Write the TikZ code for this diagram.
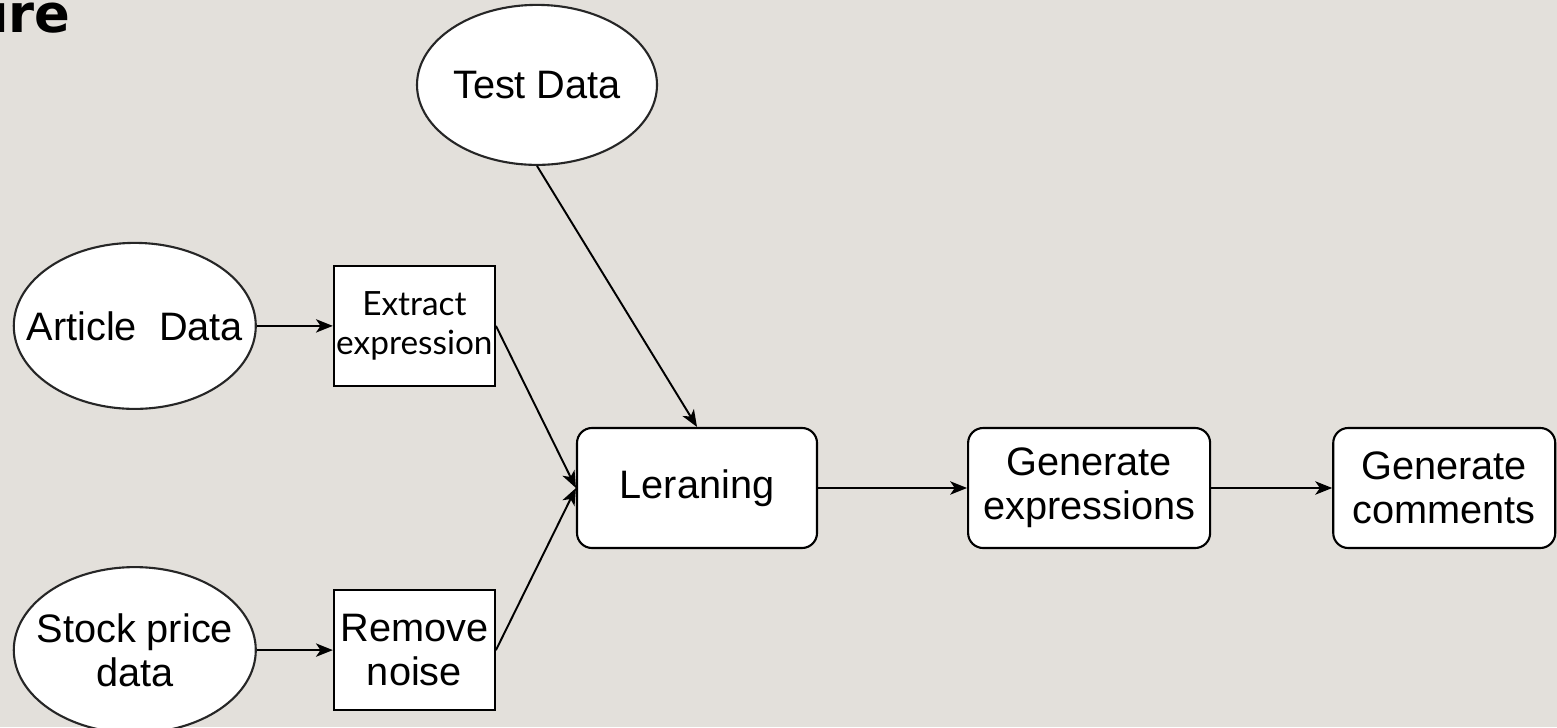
\documentclass[tikz,border=0pt]{standalone}
\usepackage{fontspec}
\setmainfont{Liberation Sans}
\newfontfamily\gillfont{Lato}
\newfontfamily\headfont{DejaVu Sans}
\usepackage{tikz}
\usetikzlibrary{shapes.geometric, arrows.meta, positioning}
\definecolor{slidebg}{RGB}{227,224,219}
\tikzstyle{datanode} = [ellipse, draw=black!85, fill=white, minimum width=2.42cm,
    minimum height=1.66cm, inner xsep=-0.25cm, inner ysep=0pt, line width=0.6pt,
    align=center, font=\fontsize{11.3}{12.5}\selectfont]
\tikzstyle{prepblock} = [rectangle, draw=black, fill=white, minimum width=1.61cm,
    minimum height=1.2cm, inner sep=0.5pt, line width=0.6pt, align=center,
    font=\fontsize{11.3}{12.5}\selectfont]
\tikzstyle{stepblock} = [rectangle, rounded corners=0.15cm, draw=black, fill=white,
    minimum width=2.4cm, minimum height=1.2cm, line width=0.6pt, align=center,
    font=\fontsize{11.3}{12.5}\selectfont]
\tikzstyle{arrow} = [line width=0.55pt, ->, >={Stealth[length=4.8pt, width=3.8pt, inset=1.3pt]}]

\begin{document}
\begin{tikzpicture}[node distance=0.4cm and 0.8cm]

  % slide background
  \fill[slidebg] (0,0) rectangle (15.57,7.27);
  \useasboundingbox (0,0) rectangle (15.57,7.27);

  \node (title) [anchor=base east, inner sep=0pt,
        font=\headfont\bfseries\fontsize{15}{18}\selectfont]
        at (0.71,6.94) {ure};

  \node (learn)   [stepblock] at (6.97,2.39) {Leraning};
  \node (genexpr) [stepblock, minimum width=2.42cm, right=1.49cm of learn]
        {Generate\\expressions};
  \node (gencomm) [stepblock, minimum width=2.22cm, right=1.21cm of genexpr]
        {Generate\\comments};

  \node (extract) [prepblock, above left=of learn,
        font=\gillfont\fontsize{9.5}{11}\selectfont]
        {Extract\\expression};
  \node (remove)  [prepblock, below left=of learn]
        {Remove\\noise};

  \node (article) [datanode, left=0.76cm of extract] {Article\ \ Data};
  \node (stock)   [datanode, left=0.76cm of remove] {Stock price\\data};
  \node (test)    [datanode, minimum width=2.4cm, minimum height=1.6cm,
        above=2.61cm of learn, xshift=-1.6cm] {Test Data};

  \foreach \a/\b in {article/extract, stock/remove, learn/genexpr, genexpr/gencomm}
    \draw[arrow] (\a) -- (\b);

  \draw[arrow] (extract.east) -- (learn.west);
  \draw[arrow] (remove.east) -- (learn.west);
  \draw[arrow] (test.south) -- (learn.north);

\end{tikzpicture}
\end{document}
